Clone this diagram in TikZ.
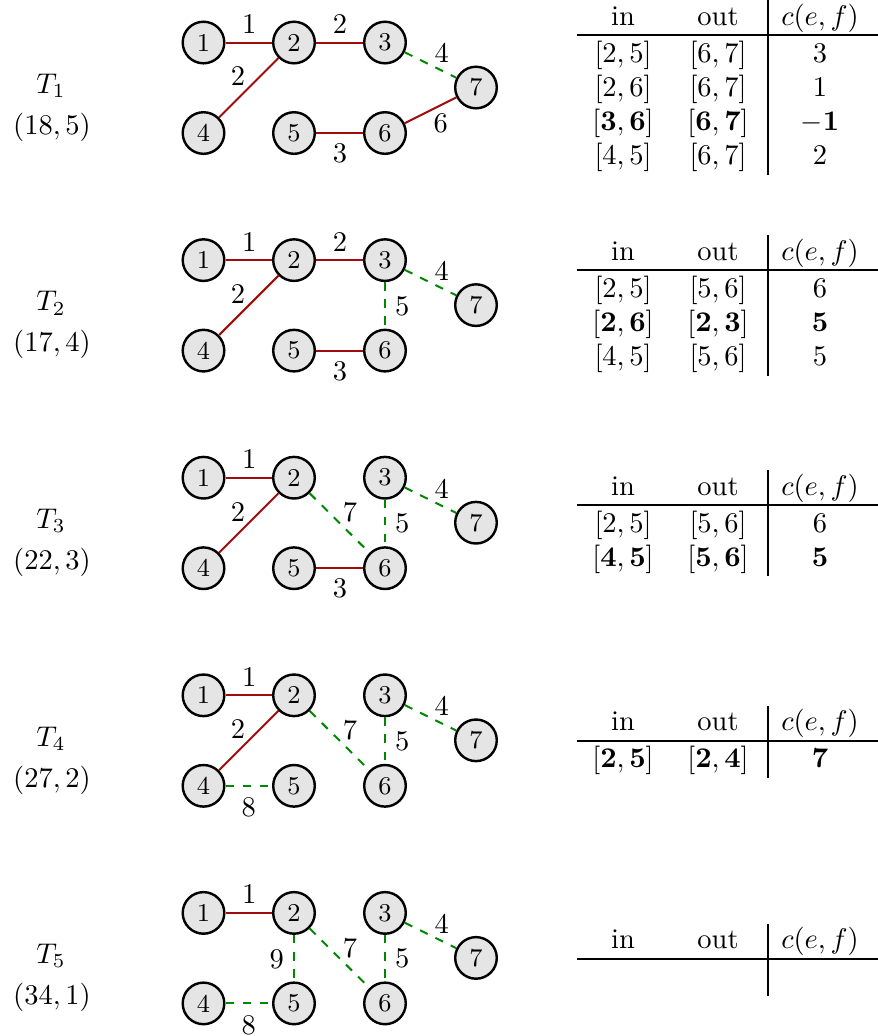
\documentclass[tikz,border=0pt]{standalone}
\usepackage{amsmath}
\definecolor{treered}{RGB}{160,12,12}
\definecolor{nongreen}{RGB}{0,135,0}
\tikzset{
  x=0.351pt, y=-0.351pt,
  vtx/.style={circle, draw=black, line width=0.85pt, fill=gray!20, minimum size=14.6pt, inner sep=0pt, font=\small},
  tree/.style={draw=treered, line width=0.7pt},
  nontree/.style={draw=nongreen, line width=0.7pt, dashed},
  lbl/.style={inner sep=0pt},
  cell/.style={anchor=base, inner sep=0pt},
  tabline/.style={line width=0.8pt}
}
\newcommand\placeverts{%
  \node[vtx] (v1) at (203.5,42.5) {1};
  \node[vtx] (v2) at (294,42.5) {2};
  \node[vtx] (v3) at (385,42.5) {3};
  \node[vtx] (v7) at (476,87.5) {7};
  \node[vtx] (v4) at (203.5,133) {4};
  \node[vtx] (v5) at (294,133) {5};
  \node[vtx] (v6) at (385,133) {6};}
% #1 rule y, #2 number of rows
\newcommand\drawtable[2]{%
  \draw[tabline] (577.5,#1) -- (878,#1);
  \draw[tabline] (768.3,{#1-35}) -- (768.3,{#1+2.7+34.3*#2});
  \node[cell] (hin) at (623,{#1-10}) {in};
  \node[cell] (hout) at (718,{#1-10}) {out};
  \node[cell] (hc) at (820,{#1-10}) {$c(e,f)$};}
% #1 name, #2 baseline y, #3 in, #4 out, #5 c
\newcommand\tabrow[5]{%
  \node[cell] (#1in) at (623,#2) {#3};
  \node[cell] (#1out) at (718,#2) {#4};
  \node[cell] (#1c) at (820,#2) {#5};}
\newcommand\leftlabel[2]{%
  \node[cell] (tname) at (51,93.3) {#1};
  \node[cell] (tval) at (52,134.3) {#2};}
\begin{document}
\begin{tikzpicture}
\useasboundingbox (0,0) rectangle (878,1036);
% ---------- T1 ----------
\begin{scope}[name prefix=a-]
  \leftlabel{$T_1$}{$(18,5)$}
  \placeverts
  \draw[tree] (v1) -- node[lbl, shift={(0.5,-18.5)}] {1} (v2);
  \draw[tree] (v2) -- node[lbl, shift={(0.5,-18.5)}] {2} (v3);
  \draw[tree] (v4) -- node[lbl, shift={(-10.7,-11.3)}] {2} (v2);
  \draw[tree] (v5) -- node[lbl, shift={(0.5,20.5)}] {3} (v6);
  \draw[tree] (v6) -- node[lbl, shift={(10.2,13.1)}] {6} (v7);
  \draw[nontree] (v3) -- node[lbl, shift={(11.2,-11.7)}] {4} (v7);
  \drawtable{35}{4}
  \tabrow{r1}{62}{$[2,5]$}{$[6,7]$}{$3$}
  \tabrow{r2}{96.3}{$[2,6]$}{$[6,7]$}{$1$}
  \tabrow{r3}{130.6}{$[\mathbf{3},\mathbf{6}]$}{$[\mathbf{6},\mathbf{7}]$}{$\mathbf{-1}$}
  \tabrow{r4}{164.9}{$[4,5]$}{$[6,7]$}{$2$}
\end{scope}
% ---------- T2 ----------
\begin{scope}[shift={(0,217.6)}, name prefix=b-]
  \leftlabel{$T_2$}{$(17,4)$}
  \placeverts
  \draw[tree] (v1) -- node[lbl, shift={(0.5,-18.5)}] {1} (v2);
  \draw[tree] (v2) -- node[lbl, shift={(0.5,-18.5)}] {2} (v3);
  \draw[tree] (v4) -- node[lbl, shift={(-10.7,-11.3)}] {2} (v2);
  \draw[tree] (v5) -- node[lbl, shift={(0.5,20.5)}] {3} (v6);
  \draw[nontree] (v3) -- node[lbl, shift={(11.2,-11.7)}] {4} (v7);
  \draw[nontree] (v3) -- node[lbl, shift={(17.3,0.5)}] {5} (v6);
  \drawtable{52.4}{3}
  \tabrow{r1}{79.4}{$[2,5]$}{$[5,6]$}{$6$}
  \tabrow{r2}{113.7}{$[\mathbf{2},\mathbf{6}]$}{$[\mathbf{2},\mathbf{3}]$}{$\mathbf{5}$}
  \tabrow{r3}{148}{$[4,5]$}{$[5,6]$}{$5$}
\end{scope}
% ---------- T3 ----------
\begin{scope}[shift={(0,435.2)}, name prefix=c-]
  \leftlabel{$T_3$}{$(22,3)$}
  \placeverts
  \draw[tree] (v1) -- node[lbl, shift={(0.5,-18.5)}] {1} (v2);
  \draw[tree] (v4) -- node[lbl, shift={(-10.7,-11.3)}] {2} (v2);
  \draw[tree] (v5) -- node[lbl, shift={(0.5,20.5)}] {3} (v6);
  \draw[nontree] (v2) -- node[lbl, shift={(10.5,-10.3)}] {7} (v6);
  \draw[nontree] (v3) -- node[lbl, shift={(11.2,-11.7)}] {4} (v7);
  \draw[nontree] (v3) -- node[lbl, shift={(17.3,0.5)}] {5} (v6);
  \drawtable{69.8}{2}
  \tabrow{r1}{96.8}{$[2,5]$}{$[5,6]$}{$6$}
  \tabrow{r2}{131.1}{$[\mathbf{4},\mathbf{5}]$}{$[\mathbf{5},\mathbf{6}]$}{$\mathbf{5}$}
\end{scope}
% ---------- T4 ----------
\begin{scope}[shift={(0,652.8)}, name prefix=d-]
  \leftlabel{$T_4$}{$(27,2)$}
  \placeverts
  \draw[tree] (v1) -- node[lbl, shift={(0.5,-18.5)}] {1} (v2);
  \draw[tree] (v4) -- node[lbl, shift={(-10.7,-11.3)}] {2} (v2);
  \draw[nontree] (v4) -- node[lbl, shift={(0,22)}] {8} (v5);
  \draw[nontree] (v2) -- node[lbl, shift={(10.5,-10.3)}] {7} (v6);
  \draw[nontree] (v3) -- node[lbl, shift={(11.2,-11.7)}] {4} (v7);
  \draw[nontree] (v3) -- node[lbl, shift={(17.3,0.5)}] {5} (v6);
  \drawtable{88}{1}
  \tabrow{r1}{115}{$[\mathbf{2},\mathbf{5}]$}{$[\mathbf{2},\mathbf{4}]$}{$\mathbf{7}$}
\end{scope}
% ---------- T5 ----------
\begin{scope}[shift={(0,870.4)}, name prefix=e-]
  \leftlabel{$T_5$}{$(34,1)$}
  \placeverts
  \draw[tree] (v1) -- node[lbl, shift={(0.5,-18.5)}] {1} (v2);
  \draw[nontree] (v4) -- node[lbl, shift={(0,22)}] {8} (v5);
  \draw[nontree] (v2) -- node[lbl, shift={(-17.3,1.3)}] {9} (v5);
  \draw[nontree] (v2) -- node[lbl, shift={(10.5,-10.3)}] {7} (v6);
  \draw[nontree] (v3) -- node[lbl, shift={(11.2,-11.7)}] {4} (v7);
  \draw[nontree] (v3) -- node[lbl, shift={(17.3,0.5)}] {5} (v6);
  \drawtable{88.5}{1}
\end{scope}
\end{tikzpicture}
\end{document}
